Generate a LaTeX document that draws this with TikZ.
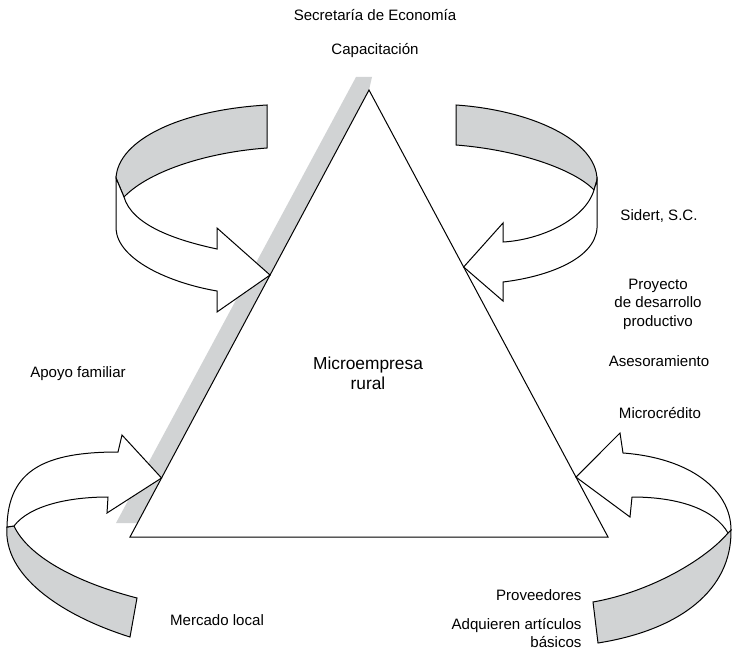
\documentclass[tikz,border=0pt]{standalone}
\usepackage{fontspec}
\setmainfont{Liberation Sans}
\usepackage{xcolor}
\usetikzlibrary{positioning,calc}

\definecolor{ribbon}{RGB}{209,211,212}

\begin{document}
\begin{tikzpicture}[x=0.75pt, y=-0.75pt, line width=0.75pt,
    lbl/.style={font=\fontsize{11.3}{13.9}\selectfont, inner sep=0pt, align=center},
    back/.style={draw, fill=ribbon},
    front/.style={draw, fill=white}]
    \useasboundingbox (0,0) rectangle (732,660);

    \coordinate (apex) at (369,90);
    \coordinate (bl) at (130,537);
    \coordinate (br) at (608,537);

    \fill[ribbon] (116,523) -- (137.5,523) -- (apex) -- (372,77) -- (356,77) -- cycle;
    \draw[fill=white] (apex) -- (bl) -- (br) -- cycle;

    \coordinate (tltip) at ($(apex)!.414!(bl)$);
    \coordinate (trtip) at ($(apex)!.396!(br)$);
    \coordinate (bltip) at ($(apex)!.868!(bl)$);
    \coordinate (brtip) at ($(apex)!.866!(br)$);

    \draw[back] (116,178) .. controls (118,140) and (180,110) .. (267,105) -- (267,148)
        .. controls (210,152) and (150,170) .. (124,197) -- cycle;
    \draw[front] (116,178) -- (116,229) .. controls (118,260) and (170,283) .. (217,291)
        -- (217,312) -- (tltip) -- (217,228) -- (217,249)
        .. controls (175,240) and (132,225) .. (124,197) -- cycle;

    \draw[back] (456,105) .. controls (530,110) and (597,140) .. (597,180) -- (594,190)
        .. controls (575,170) and (520,150) .. (456,145) -- cycle;
    \draw[front] (597,180) -- (597,228) .. controls (595,260) and (545,277) .. (503,282)
        -- (503,301) -- (trtip) -- (503,223) -- (503,242)
        .. controls (540,240) and (585,220) .. (594,190) -- cycle;

    \draw[back] (7,527) .. controls (3,575) and (60,615) .. (130,637) -- (137,598)
        .. controls (75,582) and (28,556) .. (14,526) -- cycle;
    \draw[front] (7,527) .. controls (8,470) and (45,452) .. (118,452)
        -- (122,435) -- (bltip) -- (107,513) -- (108,497)
        .. controls (70,497) and (30,505) .. (14,526) -- cycle;

    \draw[back] (731,530) .. controls (732,590) and (680,630) .. (598,643) -- (593,602)
        .. controls (650,592) and (705,560) .. (728,533) -- cycle;
    \draw[front] (731,530) .. controls (731,490) and (690,458) .. (623,453)
        -- (620,433) -- (brtip) -- (630,517) -- (632,497)
        .. controls (680,497) and (715,510) .. (728,533) -- cycle;

    \node[lbl] (secretaria) at (375,15) {Secretaría de Economía};
    \node[lbl] (capacitacion) at (375,51) {Capacitación};
    \node[lbl] (sidert) at (659,216) {Sidert, S.C.};
    \node[lbl] (proyecto) at (658,304) {Proyecto\\de desarrollo\\productivo};
    \node[lbl] (asesoramiento) at (659,361) {Asesoramiento};
    \node[lbl] (microcredito) at (660,413) {Microcrédito};
    \node[lbl] (apoyo) at (78,374) {Apoyo familiar};
    \node[lbl, font=\fontsize{13}{15}\selectfont] (microempresa) at (368,373) {Microempresa\\rural};
    \node[lbl] (mercado) at (217,620) {Mercado local};
    \node[lbl, anchor=east] (proveedores) at (582,595) {Proveedores};
    \node[lbl, align=right, anchor=east] (adquieren) at (582,633) {Adquieren artículos\\básicos};
\end{tikzpicture}
\end{document}
